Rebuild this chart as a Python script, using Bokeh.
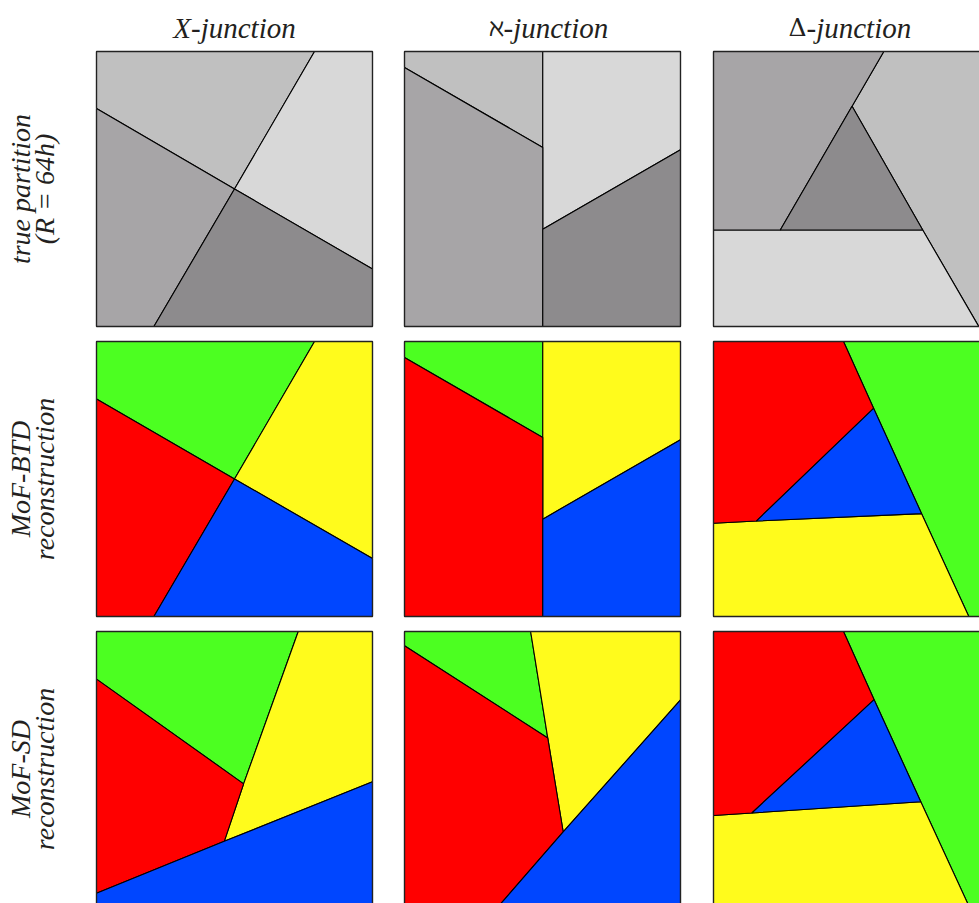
import numpy as np
from bokeh.plotting import figure
from bokeh.models import Range1d
from bokeh.core.properties import value
from bokeh.embed import file_html
from bokeh.resources import INLINE

# ---- labels ----
col_symbols = ["", "\u2135", "\u0394"]
col_suffix = ["X-junction", "-junction", "-junction"]
row_labels = [["true partition", "(R = 64h)"],
              ["MoF-BTD", "reconstruction"],
              ["MoF-SD", "reconstruction"]]

# ---- colours ----
gray_colors = ["#c0c0c0", "#d8d8d8", "#a7a5a7", "#8d8b8d"]
mof_colors = ["#4cff21", "#fffb1c", "#ff0000", "#0046ff"]

# ---- partitions: polygons in unit square (u: left->right, v: top->bottom) ----
# X-junction, true
x_true_u = [[0, 0.79, 0.5, 0], [0.79, 1, 1, 0.5], [0, 0.5, 0.208, 0], [0.5, 1, 1, 0.208]]
x_true_v = [[0, 0, 0.5, 0.207], [0, 0, 0.791, 0.5], [0.207, 0.5, 1, 1], [0.5, 0.791, 1, 1]]
# X-junction, MoF-BTD
x_btd_u = [[0, 0.79, 0.5, 0], [0.79, 1, 1, 0.5], [0, 0.5, 0.208, 0], [0.5, 1, 1, 0.208]]
x_btd_v = [[0, 0, 0.5, 0.209], [0, 0, 0.789, 0.5], [0.209, 0.5, 1, 1], [0.5, 0.789, 1, 1]]
# X-junction, MoF-SD
x_sd_u = [[0, 0.731, 0.533, 0], [0.731, 1, 1, 0.463, 0.533], [0, 0.533, 0.463, 0], [0, 0.463, 1, 1, 0]]
x_sd_v = [[0, 0, 0.554, 0.173], [0, 0, 0.546, 0.763, 0.554], [0.173, 0.554, 0.763, 0.952], [0.952, 0.763, 0.546, 1, 1]]

# Aleph-junction, true
a_true_u = [[0, 0.501, 0.501, 0], [0.501, 1, 1, 0.501], [0, 0.501, 0.501, 0], [0.501, 1, 1, 0.501]]
a_true_v = [[0, 0, 0.349, 0.058], [0, 0, 0.357, 0.646], [0.058, 0.349, 1, 1], [0.646, 0.357, 1, 1]]
# Aleph-junction, MoF-BTD
a_btd_u = [[0, 0.501, 0.501, 0], [0.501, 1, 1, 0.501], [0, 0.501, 0.501, 0], [0.501, 1, 1, 0.501]]
a_btd_v = [[0, 0, 0.349, 0.058], [0, 0, 0.357, 0.646], [0.058, 0.349, 1, 1], [0.646, 0.357, 1, 1]]
# Aleph-junction, MoF-SD
a_sd_u = [[0, 0.457, 0.519, 0], [0.457, 1, 1, 0.575, 0.519], [0, 0.519, 0.575, 0.34, 0], [0.575, 1, 1, 0.34]]
a_sd_v = [[0, 0, 0.387, 0.052], [0, 0, 0.249, 0.729, 0.387], [0.052, 0.387, 0.729, 1, 1], [0.729, 0.249, 1, 1]]

# Delta-junction, true  (order: right, bottom, top-left, triangle)
d_true_u = [[0.617, 1, 1, 0.961, 0.758, 0.502], [0, 0.242, 0.758, 0.961, 0], [0, 0.617, 0.502, 0.242, 0], [0.502, 0.242, 0.758]]
d_true_v = [[0, 0, 1, 1, 0.649, 0.199], [0.649, 0.649, 0.649, 1, 1], [0, 0, 0.199, 0.649, 0.649], [0.199, 0.649, 0.649]]
# Delta-junction, MoF-BTD (order: right green, bottom yellow, top-left red, triangle blue)
d_btd_u = [[0.471, 1, 1, 0.925, 0.754, 0.580], [0, 0.155, 0.754, 0.925, 0], [0, 0.471, 0.580, 0.155, 0], [0.580, 0.155, 0.754]]
d_btd_v = [[0, 0, 1, 1, 0.626, 0.243], [0.661, 0.653, 0.626, 1, 1], [0, 0, 0.243, 0.653, 0.661], [0.243, 0.653, 0.626]]
# Delta-junction, MoF-SD
d_sd_u = [[0.471, 1, 1, 0.926, 0.751, 0.582], [0, 0.139, 0.751, 0.926, 0], [0, 0.471, 0.582, 0.139, 0], [0.582, 0.139, 0.751]]
d_sd_v = [[0, 0, 1, 1, 0.619, 0.248], [0.669, 0.660, 0.619, 1, 1], [0, 0, 0.248, 0.660, 0.669], [0.248, 0.660, 0.619]]

panels = [
    [(x_true_u, x_true_v), (a_true_u, a_true_v), (d_true_u, d_true_v)],
    [(x_btd_u, x_btd_v), (a_btd_u, a_btd_v), (d_btd_u, d_btd_v)],
    [(x_sd_u, x_sd_v), (a_sd_u, a_sd_v), (d_sd_u, d_sd_v)],
]
row_colors = [gray_colors, mof_colors, mof_colors]

# ---- layout (canvas pixels) ----
W, H = 979, 903
col_left = [96, 404, 713]
row_top = [51, 341, 631]
PW, PH = 276, 275
title_join = [None, 503, 806]

def X(u, c):
    return col_left[c] + np.asarray(u, float) * PW

def Y(v, r):
    return H - (row_top[r] + np.asarray(v, float) * PH)

p = figure(width=W, height=H, x_range=Range1d(0, W), y_range=Range1d(0, H),
           output_backend="svg", toolbar_location=None,
           x_axis_type=None, y_axis_type=None, min_border=0)
p.grid.visible = False
p.outline_line_color = None
p.background_fill_color = "white"

for r in range(3):
    for c in range(3):
        us, vs = panels[r][c]
        xs = [list(X(u, c)) for u in us]
        ys = [list(Y(v, r)) for v in vs]
        p.patches(xs=xs, ys=ys, fill_color=row_colors[r], line_color="black",
                  line_width=1.1)
        p.rect(x=[col_left[c] + PW / 2], y=[H - (row_top[r] + PH / 2)],
               width=PW, height=PH, fill_color=None, line_color="#222222",
               line_width=1.3)

# column titles
ty = H - 27
tfont = dict(text_font=value("Liberation Serif"), text_font_size="29px",
             text_color="#231f20", text_baseline="alphabetic")
p.text(x=[col_left[0] + PW / 2], y=[ty], text=[col_suffix[0]], text_align="center",
       text_font_style="italic", **tfont)
for c in (1, 2):
    p.text(x=[title_join[c]], y=[ty], text=[col_symbols[c]], text_align="right",
           text_font_style="normal", text_font=value("DejaVu Serif"),
           text_font_size="25px", text_color="#231f20", text_baseline="alphabetic")
    p.text(x=[title_join[c]], y=[ty], text=[col_suffix[c]], text_align="left",
           text_font_style="italic", **tfont)

# row labels (rotated)
line_x = [20, 44]
for r in range(3):
    yc = H - (row_top[r] + PH / 2)
    for k in range(2):
        p.text(x=[line_x[k]], y=[yc], text=[row_labels[r][k]], angle=np.pi / 2,
               text_align="center", text_baseline="middle",
               text_font=value("Liberation Serif"), text_font_style="italic",
               text_font_size="28px", text_color="#231f20")

open("out.html", "w").write(file_html(p, INLINE))
